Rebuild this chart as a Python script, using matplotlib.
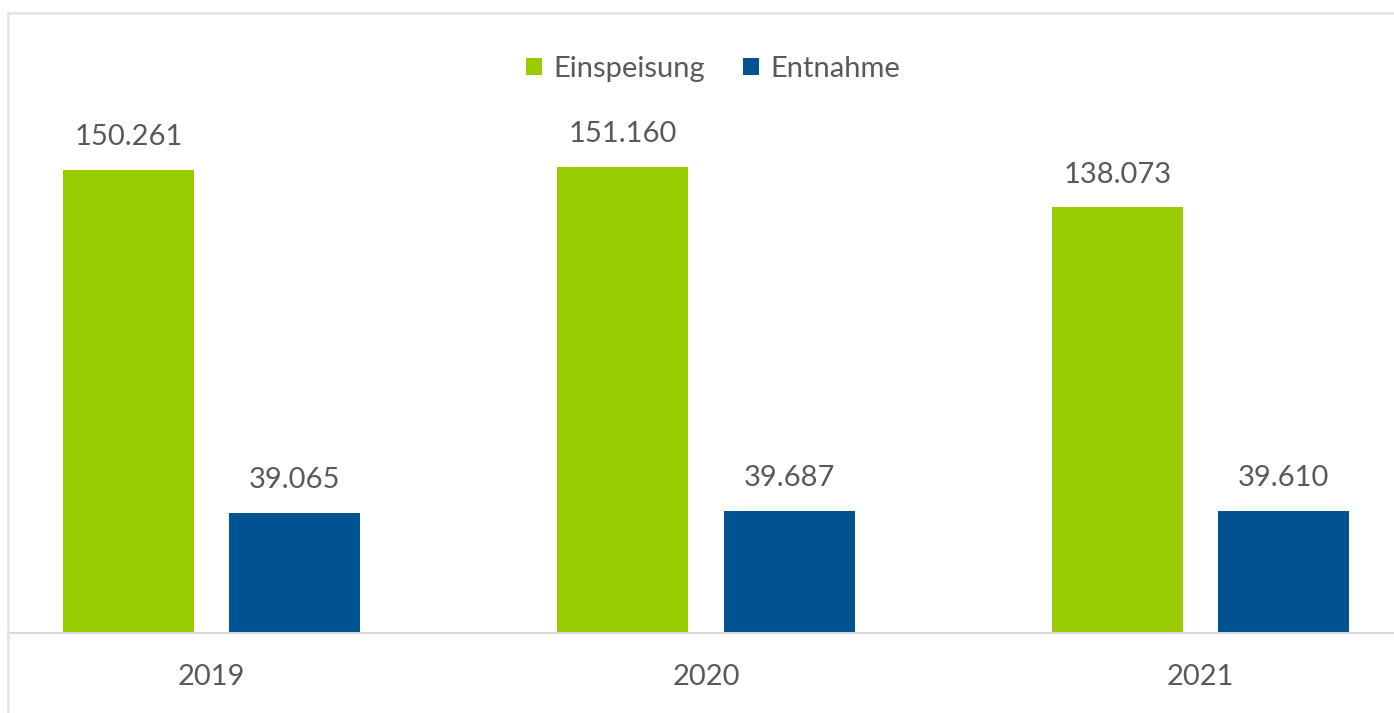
import numpy as np
import matplotlib.pyplot as plt
from matplotlib.patches import Patch
from matplotlib.lines import Line2D

# data
years = ['2019', '2020', '2021']
einspeisung = [150261, 151160, 138073]
entnahme = [39065, 39687, 39610]
series_names = ['Einspeisung', 'Entnahme']
series_colors = ['#99cc00', '#005290']

text_color = '#595959'
plt.rcParams['font.family'] = ['Lato', 'DejaVu Sans']

W, H = 1394, 713
fig = plt.figure(figsize=(W / 100, H / 100), dpi=100)
ax = fig.add_axes([8 / W, (H - 633) / H, (W - 8) / W, (633 - 13) / H])

x = np.arange(len(years))
width = 0.265
offset = 0.168

def fmt(v):
    return f'{v:,}'.replace(',', '.')

for vals, sign, col in [(einspeisung, -1, series_colors[0]), (entnahme, 1, series_colors[1])]:
    bars = ax.bar(x + sign * offset, vals, width, color=col, zorder=2)
    for b, v in zip(bars, vals):
        ax.annotate(fmt(v), (b.get_x() + b.get_width() / 2, v), xytext=(0, 23.5),
                    textcoords='offset points', ha='center', va='center',
                    fontsize=21, color=text_color)

ax.set_xlim((8 - 211.5) / 494.5, (1394 - 211.5) / 494.5)
ax.set_ylim(0, 620 / 466 * 151160)

ax.set_xticks(x)
ax.set_xticklabels(years, fontsize=21, color=text_color)
ax.tick_params(axis='x', length=0, pad=22)
ax.set_yticks([])
for s in ['top', 'right', 'left']:
    ax.spines[s].set_visible(False)
ax.spines['bottom'].set_color('#d9d9d9')
ax.spines['bottom'].set_linewidth(1.5)

# chart border (top and left visible)
fig.add_artist(Line2D([8 / W, 1], [1 - 13 / H, 1 - 13 / H], color='#e3e3e3', lw=1.8))
fig.add_artist(Line2D([8 / W, 8 / W], [0, 1 - 13 / H], color='#e3e3e3', lw=1.8))

handles = [Patch(facecolor=c) for c in series_colors]
fig.legend(handles, series_names, loc='center', bbox_to_anchor=(713 / W, 1 - 69 / H),
           ncol=2, frameon=False, fontsize=21, labelcolor=text_color,
           handlelength=0.55, handleheight=0.55, handletextpad=0.4, columnspacing=1.3)

fig.savefig('out.png', dpi=100)
